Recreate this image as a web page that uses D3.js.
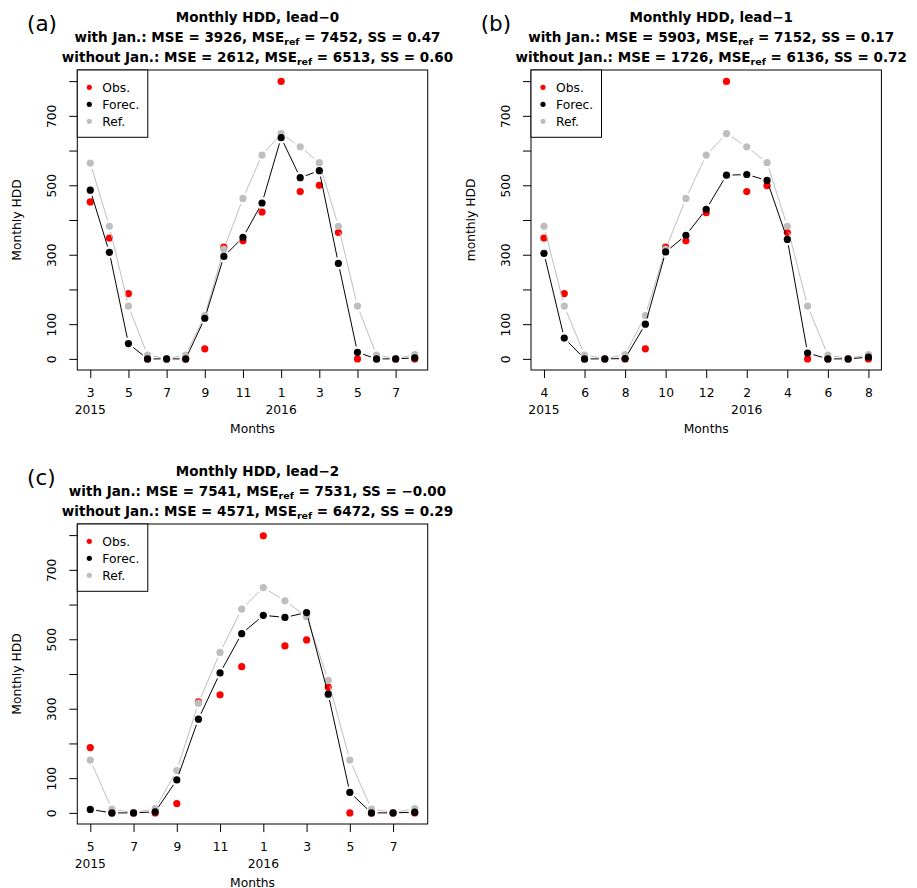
<!DOCTYPE html>
<html>
<head>
<meta charset="utf-8">
<script src="https://cdn.jsdelivr.net/npm/d3@7/dist/d3.min.js"></script>
<style>
  body { margin: 0; background: #fff; }
  text { font-family: "DejaVu Sans", sans-serif; fill: #000; }
</style>
</head>
<body>
<svg id="chart" width="917" height="888"></svg>
<script>
// ---- data ----
var monthsA = [3, 4, 5, 6, 7, 8, 9, 10, 11, 12, 1, 2, 3, 4, 5, 6, 7, 8];
var obsA    = [452, 348, 188, 0, 0, 0, 29, 322, 340, 423, 799, 482, 500, 364, 0, 0, 0, 0];
var forecA  = [486, 307, 44, 0, 0, 0, 117, 295, 350, 449, 637, 522, 542, 275, 19, 0, 0, 3];
var refA    = [564, 382, 152, 11, 1, 11, 125, 316, 462, 587, 649, 611, 565, 382, 152, 11, 1, 12];

var monthsB = [4, 5, 6, 7, 8, 9, 10, 11, 12, 1, 2, 3, 4, 5, 6, 7, 8];
var obsB    = [348, 188, 0, 0, 0, 29, 322, 340, 421, 799, 482, 499, 364, 0, 0, 0, 0];
var forecB  = [304, 60, 0, 0, 1, 100, 308, 356, 431, 529, 531, 514, 344, 17, 0, 0, 5];
var refB    = [382, 152, 11, 1, 12, 125, 316, 462, 587, 649, 611, 565, 382, 152, 11, 1, 12];

var monthsC = [5, 6, 7, 8, 9, 10, 11, 12, 1, 2, 3, 4, 5, 6, 7, 8];
var obsC    = [188, 0, 0, 0, 27, 320, 340, 421, 798, 481, 498, 362, 0, 0, 0, 0];
var forecC  = [10, 0, 0, 3, 95, 270, 403, 516, 569, 563, 577, 342, 59, 0, 0, 2];
var refC    = [152, 11, 1, 12, 122, 316, 462, 587, 649, 611, 565, 382, 152, 11, 1, 12];

var startYears = [2015, 2015, 2015];
var leads      = ["0", "1", "2"];
var mseWith    = ["3926", "5903", "7541"];
var mseRefWith = ["7452", "7152", "7531"];
var ssWith     = ["0.47", "0.17", "\u22120.00"];
var mseWo      = ["2612", "1726", "4571"];
var mseRefWo   = ["6513", "6136", "6472"];
var ssWo       = ["0.60", "0.72", "0.29"];
var yLabels    = ["Monthly HDD", "monthly HDD", "Monthly HDD"];
var panelTags  = ["(a)", "(b)", "(c)"];

var yTicks      = [0, 100, 200, 300, 400, 500, 600, 700, 800];
var yTickLabels = [0, 100, 300, 500, 700];
var legendNames = ["Obs.", "Forec.", "Ref."];
var colObs = "#ff0000", colForec = "#000000", colRef = "#bebebe";

var svg = d3.select("#chart");

// panel boxes (plot regions)
var panels = [
  { tag: 0, left: 77.3,  top: 70,  months: monthsA, obs: obsA, forec: forecA, ref: refA },
  { tag: 1, left: 531,   top: 70,  months: monthsB, obs: obsB, forec: forecB, ref: refB },
  { tag: 2, left: 77.3,  top: 524, months: monthsC, obs: obsC, forec: forecC, ref: refC }
];
var boxW = 350.4, boxH = 300;

panels.forEach(drawPanel);

function gapSegments(pts, gap) {
  var segs = [];
  for (var i = 0; i < pts.length - 1; i++) {
    var a = pts[i], b = pts[i + 1];
    var dx = b[0] - a[0], dy = b[1] - a[1], d = Math.hypot(dx, dy);
    if (d > 2 * gap) {
      var ux = dx / d, uy = dy / d;
      segs.push([a[0] + ux * gap, a[1] + uy * gap, b[0] - ux * gap, b[1] - uy * gap]);
    }
  }
  return segs;
}

function drawPanel(p) {
  var k = p.tag;
  var n = p.months.length;
  var right = p.left + boxW, bottom = p.top + boxH;
  var g = svg.append("g");

  // R style: 4% padding on both axes
  var x = d3.scaleLinear().domain([-0.04 * (n - 1), 1.04 * (n - 1)]).range([p.left, right]);
  var y = d3.scaleLinear().domain([-32, 832]).range([bottom, p.top]);

  // x axis, every other month
  var idx = d3.range(0, n, 2);
  var xAxis = d3.axisBottom(x).tickValues(idx)
    .tickFormat(function (i) { return p.months[i]; })
    .tickSize(8).tickSizeOuter(0);
  var gx = g.append("g").attr("transform", "translate(0," + bottom + ")").call(xAxis);
  gx.select(".domain").remove();
  gx.selectAll("text").attr("y", 26.5).attr("dy", null)
    .style("font-family", "DejaVu Sans").style("font-size", "12.3px");

  // year labels under the first labelled tick of each year
  var yr = startYears[k], seen = {};
  p.months.forEach(function (m, i) {
    if (i > 0 && m < p.months[i - 1]) yr++;
    if (i % 2 === 0 && !seen[yr]) {
      seen[yr] = true;
      g.append("text").attr("x", x(i)).attr("y", bottom + 43.5)
        .attr("text-anchor", "middle").style("font-size", "12.3px").text(yr);
    }
  });
  g.append("text").attr("x", (p.left + right) / 2).attr("y", bottom + 62.5)
    .attr("text-anchor", "middle").style("font-size", "12.3px").text("Months");

  // y axis
  var yAxis = d3.axisLeft(y).tickValues(yTicks)
    .tickFormat(function (v) { return yTickLabels.indexOf(v) >= 0 ? v : ""; })
    .tickSize(8).tickSizeOuter(0);
  var gy = g.append("g").attr("transform", "translate(" + p.left + ",0)").call(yAxis);
  gy.select(".domain").remove();
  gy.selectAll("text").attr("x", 0).attr("y", -21).attr("dy", null)
    .attr("transform", "rotate(-90)").attr("text-anchor", "middle")
    .style("font-family", "DejaVu Sans").style("font-size", "12.3px");
  g.selectAll(".tick line").attr("stroke", "#000");

  g.append("text")
    .attr("transform", "translate(" + (p.left - 56.5) + "," + (p.top + boxH / 2) + ") rotate(-90)")
    .attr("text-anchor", "middle").style("font-size", "12.3px").text(yLabels[k]);

  // box
  g.append("rect").attr("x", p.left).attr("y", p.top).attr("width", boxW).attr("height", boxH)
    .attr("fill", "none").attr("stroke", "#000").attr("stroke-width", 1);

  // titles
  var cx = (p.left + right) / 2 + 5;
  g.append("text").attr("x", cx).attr("y", p.top - 48).attr("text-anchor", "middle")
    .style("font-size", "13.5px").style("font-weight", "bold")
    .text("Monthly HDD, lead\u2212" + leads[k]);
  [["with Jan.: ", mseWith[k], mseRefWith[k], ssWith[k], -28],
   ["without Jan.: ", mseWo[k], mseRefWo[k], ssWo[k], -8]].forEach(function (r) {
    var t = g.append("text").attr("x", cx).attr("y", p.top + r[4]).attr("text-anchor", "middle")
      .style("font-size", "13.5px").style("font-weight", "bold");
    t.append("tspan").text(r[0] + "MSE = " + r[1] + ", MSE");
    t.append("tspan").attr("dy", 3).style("font-size", "9.5px").text("ref");
    t.append("tspan").attr("dy", -3).text(" = " + r[2] + ", SS = " + r[3]);
  });

  // panel tag
  g.append("text").attr("x", p.left - 50.3).attr("y", p.top - 39.5)
    .style("font-size", "21.5px").text(panelTags[k]);

  // data: obs points, then ref (line + points), then forecast (line + points)
  function pts(arr) { return arr.map(function (v, i) { return [x(i), y(v)]; }); }
  g.append("g").selectAll("circle").data(pts(p.obs)).join("circle")
    .attr("cx", function (d) { return d[0]; }).attr("cy", function (d) { return d[1]; })
    .attr("r", 3.6).attr("fill", colObs);

  [[p.ref, colRef], [p.forec, colForec]].forEach(function (s) {
    var pp = pts(s[0]);
    g.append("g").selectAll("line").data(gapSegments(pp, 6)).join("line")
      .attr("x1", function (d) { return d[0]; }).attr("y1", function (d) { return d[1]; })
      .attr("x2", function (d) { return d[2]; }).attr("y2", function (d) { return d[3]; })
      .attr("stroke", s[1]).attr("stroke-width", 1);
    g.append("g").selectAll("circle").data(pp).join("circle")
      .attr("cx", function (d) { return d[0]; }).attr("cy", function (d) { return d[1]; })
      .attr("r", 3.6).attr("fill", s[1]);
  });

  // legend
  var lg = g.append("g").attr("transform", "translate(" + p.left + "," + p.top + ")");
  lg.append("rect").attr("width", 70.5).attr("height", 67.3)
    .attr("fill", "#fff").attr("stroke", "#000").attr("stroke-width", 1);
  [colObs, colForec, colRef].forEach(function (c, i) {
    var yy = 17.3 + i * 17;
    lg.append("circle").attr("cx", 12).attr("cy", yy).attr("r", 2.6).attr("fill", c);
    lg.append("text").attr("x", 25).attr("y", yy + 4.5)
      .style("font-size", "12.3px").text(legendNames[i]);
  });
}
</script>
</body>
</html>
